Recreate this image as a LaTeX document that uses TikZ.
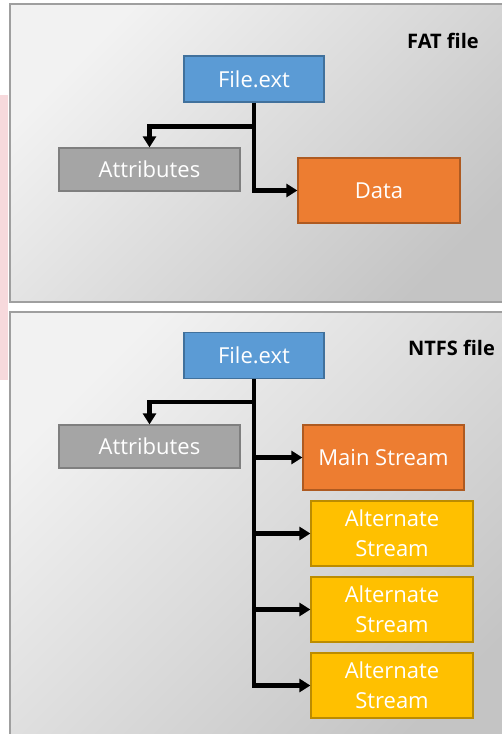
\documentclass[tikz,border=0pt]{standalone}
\usepackage{fontspec}
\setmainfont{Open Sans}
\usepackage{tikz}
\usetikzlibrary{positioning}
\usetikzlibrary{calc}
\usetikzlibrary{arrows.meta}
\definecolor{fileblue}{HTML}{5B9BD5}
\definecolor{fileblueline}{HTML}{41719C}
\definecolor{attrgray}{HTML}{A5A5A5}
\definecolor{attrgrayline}{HTML}{7F7F7F}
\definecolor{dataorange}{HTML}{ED7D31}
\definecolor{dataorangeline}{HTML}{AE5A21}
\definecolor{altyellow}{HTML}{FFC000}
\definecolor{altyellowline}{HTML}{BC8C00}
\definecolor{watermark}{HTML}{F7D9DC}
\tikzset{
	box/.style={
		draw, line width=1.2pt, text=white, align=center,
		font=\fontsize{22}{30}\selectfont, inner sep=0pt
	},
	filebox/.style={box, fill=fileblue, draw=fileblueline, minimum width=140pt, minimum height=46pt},
	attrbox/.style={box, fill=attrgray, draw=attrgrayline, minimum width=181pt, minimum height=43pt},
	databox/.style={box, fill=dataorange, draw=dataorangeline, minimum width=162pt, minimum height=65pt},
	altbox/.style={box, fill=altyellow, draw=altyellowline, minimum width=162pt, minimum height=65pt},
	panel/.style={draw=gray!75, line width=2pt, top color=black!5, bottom color=black!23, shading angle=45},
	paneltitle/.style={font=\fontsize{20}{24}\selectfont\bfseries, text=black},
	link/.style={line width=4.5pt, -{Triangle[length=11pt,width=13pt]}}
}

\begin{document}
\begin{tikzpicture}[x=1pt, y=-1pt]
	\useasboundingbox (0,0) rectangle (502,734);
	\clip (0,0) rectangle (502,734);
	\fill[white] (0,0) rectangle (502,734);
	\fill[watermark] (0,95) rectangle (8,380);

	% FAT panel
	\shade[panel] (10,4) rectangle (520,302);
	\node[paneltitle] (fatlabel) at (443,41) {FAT file};
	\node[filebox] (fatfile) at (254,79) {File.ext};
	\node[attrbox] (fatattr) at (149.5,169.5) {Attributes};
	\node[databox] (fatdata) at (379,190.5) {Data};
	\coordinate (fatsplit) at ($(fatfile.south)+(0,24)$);
	\draw[link] (fatfile.south) |- (fatdata.west);
	\draw[link] (fatsplit) -| (fatattr.north);

	% NTFS panel
	\shade[panel] (10,312) rectangle (520,760);
	\node[paneltitle] (ntfslabel) at (451.5,348) {NTFS file};
	\node[filebox] (ntfsfile) at (254,355.5) {File.ext};
	\node[attrbox] (ntfsattr) at (149.5,446.5) {Attributes};
	\node[databox, minimum width=161pt] (mainstream) at (383.5,457.5) {Main Stream};
	\node[altbox] (altA) at (392,533.5) {Alternate\\Stream};
	\node[altbox] (altB) at (392,609.5) {Alternate\\Stream};
	\node[altbox] (altC) at (392,685.5) {Alternate\\Stream};
	\coordinate (ntfssplit) at ($(ntfsfile.south)+(0,23)$);
	\draw[link] (ntfsfile.south) |- (altC.west);
	\draw[link] (ntfssplit) -| (ntfsattr.north);
	\foreach \s in {mainstream, altA, altB}
		\draw[link] (ntfsfile.south |- \s.west) -- (\s.west);
\end{tikzpicture}
\end{document}
